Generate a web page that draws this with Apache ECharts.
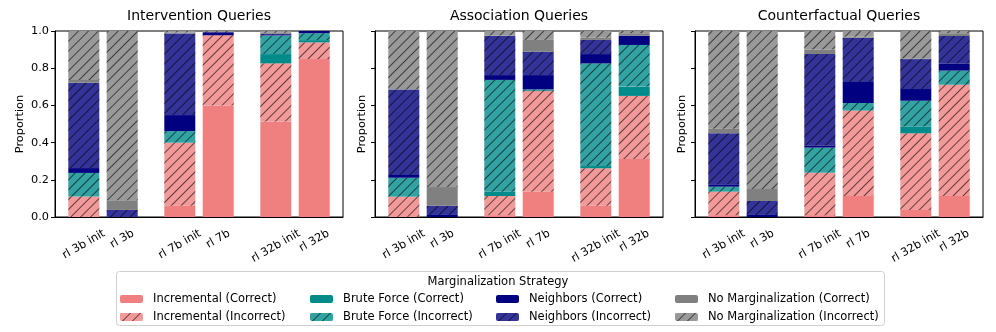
<!DOCTYPE html>
<html>
<head>
<meta charset="utf-8">
<script src="https://cdn.jsdelivr.net/npm/echarts@6/dist/echarts.min.js"></script>
<style>
  html, body { margin: 0; padding: 0; background: #fff; }
  #chart { width: 996px; height: 332px; }
</style>
</head>
<body>
<div id="chart"></div>
<script>
// bar labels and panel titles
var categories = ['rl 3b init', 'rl 3b', 'rl 7b init', 'rl 7b', 'rl 32b init', 'rl 32b'];
var panelTitles = ['Intervention Queries', 'Association Queries', 'Counterfactual Queries'];
var seriesNames = [
  'Incremental (Correct)', 'Incremental (Incorrect)',
  'Brute Force (Correct)', 'Brute Force (Incorrect)',
  'Neighbors (Correct)', 'Neighbors (Incorrect)',
  'No Marginalization (Correct)', 'No Marginalization (Incorrect)'
];

// proportions, one value per bar (same order as categories)
// Intervention
var intIncC = [0, 0, 0.061, 0.6, 0.513, 0.849];
var intIncI = [0.11, 0, 0.337, 0.377, 0.313, 0.09];
var intBfC = [0, 0, 0.002, 0, 0.05, 0.012];
var intBfI = [0.127, 0, 0.062, 0, 0.099, 0.037];
var intNbC = [0.026, 0, 0.086, 0.013, 0.002, 0.012];
var intNbI = [0.459, 0.038, 0.439, 0.005, 0.008, 0];
var intNmC = [0.015, 0.052, 0.005, 0, 0.005, 0];
var intNmI = [0.263, 0.91, 0.008, 0.005, 0.01, 0];
// Association
var assIncC = [0, 0, 0.01, 0.136, 0.061, 0.312];
var assIncI = [0.109, 0, 0.103, 0.541, 0.201, 0.339];
var assBfC = [0, 0, 0.023, 0, 0.012, 0.05];
var assBfI = [0.102, 0, 0.601, 0.009, 0.552, 0.224];
var assNbC = [0.015, 0.011, 0.026, 0.077, 0.05, 0.05];
var assNbI = [0.46, 0.05, 0.212, 0.126, 0.076, 0];
var assNmC = [0.002, 0.1, 0.002, 0.063, 0.012, 0.013];
var assNmI = [0.312, 0.839, 0.023, 0.048, 0.036, 0.012];
// Counterfactual
var cfIncC = [0.01, 0, 0.01, 0.113, 0.038, 0.113];
var cfIncI = [0.126, 0, 0.228, 0.459, 0.412, 0.598];
var cfBfC = [0, 0, 0, 0, 0.037, 0];
var cfBfI = [0.027, 0, 0.135, 0.041, 0.138, 0.076];
var cfNbC = [0.013, 0.011, 0.012, 0.113, 0.063, 0.039];
var cfNbI = [0.274, 0.075, 0.491, 0.238, 0.161, 0.147];
var cfNmC = [0.025, 0.065, 0.025, 0.005, 0.004, 0.015];
var cfNmI = [0.525, 0.849, 0.099, 0.031, 0.147, 0.012];

var panels = [
  [intIncC, intIncI, intBfC, intBfI, intNbC, intNbI, intNmC, intNmI],
  [assIncC, assIncI, assBfC, assBfI, assNbC, assNbI, assNmC, assNmI],
  [cfIncC, cfIncI, cfBfC, cfBfI, cfNbC, cfNbI, cfNmC, cfNmI]
];

var colors = ['#f08080', '#f39999', '#008b8b', '#33a2a2', '#000080', '#333399', '#808080', '#999999'];
var hatch = {
  symbol: 'rect',
  symbolSize: 1,
  dashArrayX: [1, 0],
  dashArrayY: [1, 6],
  rotation: -Math.PI / 4,
  color: 'rgba(0,0,0,0.6)'
};

var font = 'DejaVu Sans';
var fs = 11.3;

// bars sit on a half-unit grid with a wider gap between model sizes
var nSlots = 15;
var slotOf = [1, 3, 6, 8, 11, 13];
var slotLabels = [];
for (var s = 0; s < nSlots; s++) slotLabels.push('');
slotOf.forEach(function (k, i) { slotLabels[k] = categories[i]; });

// matplotlib centres the rotated label's box under the tick and hangs it from
// the top, so longer labels sit lower; shift each one with padding
var ang = 30 * Math.PI / 180;
var ctx = document.createElement('canvas').getContext('2d');
ctx.font = fs + 'px "' + font + '"';
var lh = fs * 1.15;
function rotH(t) { return ctx.measureText(t).width * Math.sin(ang) + lh * Math.cos(ang); }
var hMin = Math.min.apply(null, categories.map(rotH));
var rich = {};
categories.forEach(function (c, i) {
  var dy = (rotH(c) - hMin) / 2;
  rich['c' + i] = {
    fontFamily: font, fontSize: fs, color: '#000',
    padding: [2 * dy * Math.cos(ang), 2 * dy * Math.sin(ang), 0, 0]
  };
});
var labelMargin = 10 + hMin / 2;

var gridLeft = [55, 375, 695];
var grids = [], xAxes = [], yAxes = [], titles = [], series = [];
panels.forEach(function (panel, p) {
  grids.push({ left: gridLeft[p], top: 31, width: 288, height: 186, show: true, borderColor: '#000', borderWidth: 1 });
  titles.push({
    text: panelTitles[p], left: gridLeft[p] + 144, top: 9, textAlign: 'center', padding: 0,
    textStyle: { fontFamily: font, fontSize: 14, fontWeight: 'normal', color: '#000' }
  });
  xAxes.push({
    type: 'category', gridIndex: p, data: slotLabels,
    axisLine: { lineStyle: { color: '#000' } },
    axisTick: { alignWithLabel: true, length: 4, lineStyle: { color: '#000' },
      interval: function (i) { return slotLabels[i] !== ''; } },
    axisLabel: {
      interval: 0, rotate: 30, align: 'center', verticalAlign: 'middle', margin: labelMargin,
      fontFamily: font, fontSize: fs, color: '#000', rich: rich,
      formatter: function (v) {
        var i = categories.indexOf(v);
        return i < 0 ? '' : '{c' + i + '|' + v + '}';
      }
    }
  });
  yAxes.push({
    type: 'value', gridIndex: p, min: 0, max: 1, interval: 0.2,
    name: 'Proportion', nameLocation: 'middle', nameGap: p === 0 ? 29 : 7,
    nameTextStyle: { fontFamily: font, fontSize: fs, color: '#000' },
    axisLine: { show: true, lineStyle: { color: '#000' } },
    axisTick: { show: true, length: 4, lineStyle: { color: '#000' } },
    splitLine: { show: false },
    axisLabel: { show: p === 0, fontFamily: font, fontSize: fs, color: '#000', margin: 6,
      formatter: function (v) { return v.toFixed(1); } }
  });
  panel.forEach(function (vals, j) {
    var data = [];
    for (var s = 0; s < nSlots; s++) data.push(null);
    slotOf.forEach(function (k, i) { data[k] = vals[i]; });
    var style = { color: colors[j] };
    if (j % 2 === 1) style.decal = hatch;
    series.push({
      type: 'bar', name: seriesNames[j], xAxisIndex: p, yAxisIndex: p,
      stack: 'panel' + p, barWidth: 31, itemStyle: style, data: data,
      animation: false, emphasis: { disabled: true }
    });
  });
});

// legend as four two-row columns, like the source
var legendX = [120, 310, 496, 675];
var legends = legendX.map(function (x, c) {
  return {
    orient: 'vertical', left: x, top: 293, padding: 0, itemWidth: 23, itemHeight: 8, itemGap: 6,
    selectedMode: false, data: [seriesNames[2 * c], seriesNames[2 * c + 1]],
    textStyle: { fontFamily: font, fontSize: 11.5, color: '#000', padding: [0, 0, 0, 5] }
  };
});

var chart = echarts.init(document.getElementById('chart'));
chart.setOption({
  backgroundColor: '#fff',
  title: titles,
  grid: grids,
  xAxis: xAxes,
  yAxis: yAxes,
  legend: legends,
  series: series,
  graphic: [
    { type: 'rect', z: -1, shape: { x: 116.5, y: 271.5, width: 768, height: 54, r: 3 },
      style: { fill: '#fff', stroke: '#d0d0d0', lineWidth: 1 } },
    { type: 'text', left: 'center', top: 276,
      style: { text: 'Marginalization Strategy', font: '11.5px "DejaVu Sans"', fill: '#000' } }
  ]
});
</script>
</body>
</html>
